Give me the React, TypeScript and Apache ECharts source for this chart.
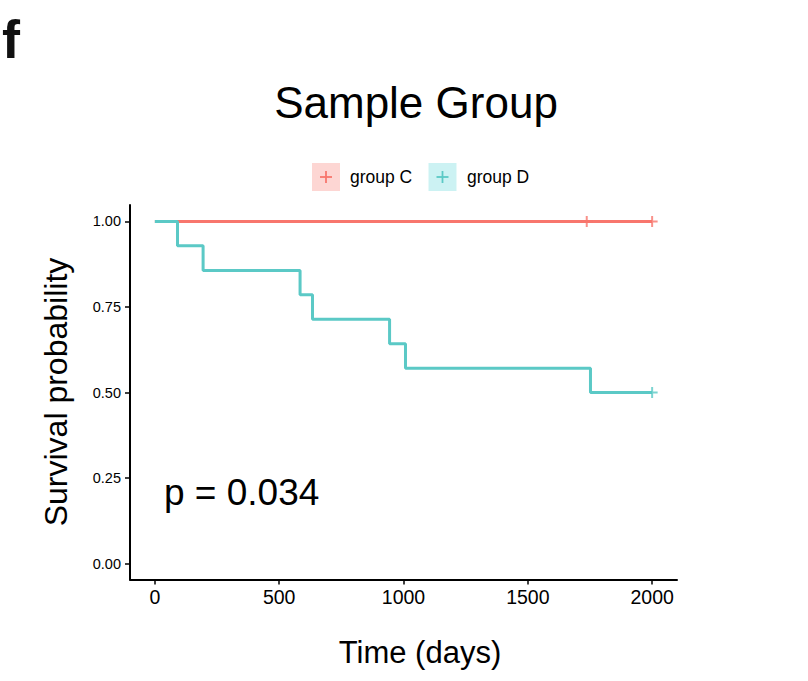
import React, { useEffect, useRef } from "react";
import * as echarts from "echarts";

const FONT = "'Liberation Sans', Arial, Helvetica, sans-serif";

const groupNames = ["group C", "group D"];
const groupColors = ["#F8766D", "#5BC9C6"];
const keyFills = ["rgba(248,118,109,0.3)", "rgba(0,191,196,0.2)"];

const timesC = [0, 2000];
const survC = [1, 1];
const censorTimesC = [1737, 2000];
const censorSurvC = [1, 1];

const timesD = [0, 91, 194, 584, 634, 944, 1008, 1752, 2000];
const survD = [1, 0.929, 0.857, 0.786, 0.714, 0.643, 0.571, 0.5, 0.5];
const censorTimesD = [2000];
const censorSurvD = [0.5];

const xTicks = [0, 500, 1000, 1500, 2000];
const yTicks = [0, 0.25, 0.5, 0.75, 1];

const pValueText = "p = 0.034";

const PLUS =
  "path://M4.1,0 L5.9,0 L5.9,4.1 L10,4.1 L10,5.9 L5.9,5.9 L5.9,10 L4.1,10 L4.1,5.9 L0,5.9 L0,4.1 L4.1,4.1 Z";

function zip(a: number[], b: number[]) {
  return a.map((v, i) => [v, b[i]]);
}

export default function App() {
  const ref = useRef<HTMLDivElement>(null);

  useEffect(() => {
    document.body.style.margin = "0";
    if (!ref.current) return;
    const chart = echarts.init(ref.current, null, { renderer: "svg" });

    const legendGraphics: any[] = [];
    const keyX = [312, 428.5];
    const textX = [350, 467];
    groupNames.forEach((name, i) => {
      legendGraphics.push({
        type: "rect",
        shape: { x: keyX[i], y: 163, width: 28, height: 28 },
        style: { fill: keyFills[i] },
      });
      const cx = keyX[i] + 14;
      legendGraphics.push({
        type: "line",
        shape: { x1: cx - 6, y1: 177, x2: cx + 6, y2: 177 },
        style: { stroke: groupColors[i], lineWidth: 1.8 },
      });
      legendGraphics.push({
        type: "line",
        shape: { x1: cx, y1: 171, x2: cx, y2: 183 },
        style: { stroke: groupColors[i], lineWidth: 1.8 },
      });
      legendGraphics.push({
        type: "text",
        x: textX[i],
        y: 177,
        style: {
          text: name,
          fill: "#000",
          font: `17.5px ${FONT}`,
          textAlign: "left",
          textVerticalAlign: "middle",
        },
      });
    });

    chart.setOption({
      animation: false,
      textStyle: { fontFamily: FONT },
      grid: { left: 130, top: 205, width: 547, height: 374.5, containLabel: false },
      xAxis: {
        type: "value",
        min: -100,
        max: 2100,
        axisLine: { show: true, onZero: false, lineStyle: { color: "#000", width: 2 } },
        axisTick: { show: true, length: 5, customValues: xTicks, lineStyle: { color: "#000", width: 1.5 } },
        axisLabel: {
          customValues: xTicks,
          color: "#000",
          fontSize: 19.5,
          margin: 7,
          fontFamily: FONT,
          formatter: (v: number) => String(v),
        },
        splitLine: { show: false },
      },
      yAxis: {
        type: "value",
        min: -0.046,
        max: 1.048,
        axisLine: { show: true, onZero: false, lineStyle: { color: "#000", width: 2 } },
        axisTick: { show: true, length: 5, customValues: yTicks, lineStyle: { color: "#000", width: 1.5 } },
        axisLabel: {
          customValues: yTicks,
          color: "#000",
          fontSize: 14.5,
          margin: 9,
          fontFamily: FONT,
          formatter: (v: number) => v.toFixed(2),
        },
        splitLine: { show: false },
      },
      series: [
        {
          name: groupNames[0],
          type: "line",
          step: "end",
          data: zip(timesC, survC),
          symbol: "none",
          lineStyle: { color: groupColors[0], width: 3 },
          z: 2,
        },
        {
          name: groupNames[1],
          type: "line",
          step: "end",
          data: zip(timesD, survD),
          symbol: "none",
          lineStyle: { color: groupColors[1], width: 3 },
          z: 3,
        },
        {
          name: groupNames[0] + " censor",
          type: "scatter",
          data: zip(censorTimesC, censorSurvC),
          symbol: PLUS,
          symbolSize: 11,
          itemStyle: { color: groupColors[0] },
          z: 4,
        },
        {
          name: groupNames[1] + " censor",
          type: "scatter",
          data: zip(censorTimesD, censorSurvD),
          symbol: PLUS,
          symbolSize: 11,
          itemStyle: { color: groupColors[1] },
          z: 4,
        },
      ],
      graphic: [
        {
          type: "text",
          x: 2,
          y: 39,
          style: {
            text: "f",
            fill: "#111",
            font: `bold 54px ${FONT}`,
            textAlign: "left",
            textVerticalAlign: "middle",
          },
        },
        {
          type: "text",
          x: 416,
          y: 102,
          style: {
            text: "Sample Group",
            fill: "#000",
            font: `44px ${FONT}`,
            textAlign: "center",
            textVerticalAlign: "middle",
          },
        },
        {
          type: "text",
          x: 420,
          y: 652,
          style: {
            text: "Time (days)",
            fill: "#000",
            font: `31px ${FONT}`,
            textAlign: "center",
            textVerticalAlign: "middle",
          },
        },
        {
          type: "text",
          x: 56,
          y: 392,
          rotation: Math.PI / 2,
          style: {
            text: "Survival probability",
            fill: "#000",
            font: `32px ${FONT}`,
            textAlign: "center",
            textVerticalAlign: "middle",
          },
        },
        {
          type: "text",
          x: 164,
          y: 492,
          style: {
            text: pValueText,
            fill: "#000",
            font: `37px ${FONT}`,
            textAlign: "left",
            textVerticalAlign: "middle",
          },
        },
        ...legendGraphics,
      ],
    });

    return () => chart.dispose();
  }, []);

  return <div ref={ref} style={{ width: 808, height: 681 }} />;
}
